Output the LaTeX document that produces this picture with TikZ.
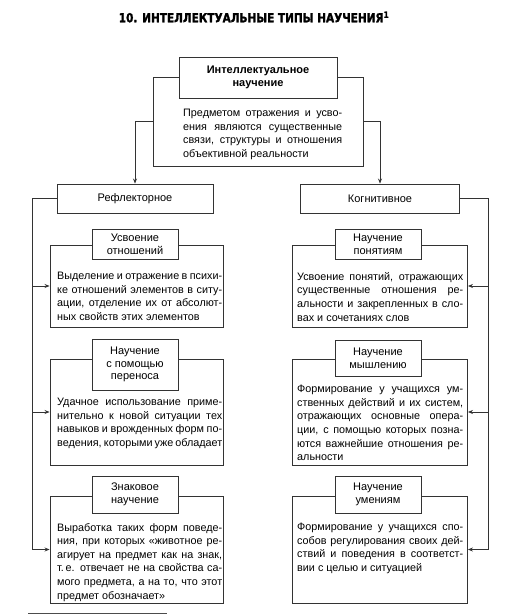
\documentclass[tikz,border=0pt]{standalone}
\usepackage{fontspec}
\setmainfont{Liberation Sans}
\newfontfamily\titlefont[FakeStretch=0.84,BoldFeatures={FakeBold=1.6}]{DejaVu Sans}
\usetikzlibrary{arrows.meta}
\newlength{\bw}
\newcommand{\jl}[1]{\makebox[\bw][s]{#1}}
\begin{document}
\begin{tikzpicture}[x=1pt,y=-1pt,
  box/.style={draw=black!80, line width=0.9pt, rectangle, inner sep=0pt},
  ttl/.style={box, fill=white, align=center, font=\fontsize{11}{12.8}\selectfont},
  body/.style={anchor=north west, inner sep=0pt, align=left, font=\fontsize{10.8}{13.6}\selectfont},
  conn/.style={draw=black!80, line width=0.7pt},
  arr/.style={conn, -{Stealth[length=5pt,width=4pt]}}
]
\useasboundingbox (0,0) rectangle (517,615);

% title
\node (title) at (254,17) {\titlefont\bfseries\fontsize{12.5}{14}\selectfont 10. ИНТЕЛЛЕКТУАЛЬНЫЕ ТИПЫ НАУЧЕНИЯ\textsuperscript{1}};

% top
\node[box, minimum width=210pt, minimum height=89pt] (top) at (258,121.5) {};
\node[box, fill=white, align=center, minimum width=158pt, minimum height=41pt,
      font=\bfseries\fontsize{11}{12.5}\selectfont] (topt) at (258,77.5) {Интеллектуальное\\научение};
\setlength{\bw}{159pt}
\node[body] (topx) at (183,109) {\jl{Предметом отражения и усво-}\\\jl{ения являются существенные}\\\jl{связи, структуры и отношения}\\объективной реальности};

% second level
\node[box, minimum width=156pt, minimum height=29pt, font=\fontsize{11}{12}\selectfont] (refl) at (135,198.5) {Рефлекторное};
\node[box, minimum width=159pt, minimum height=29pt, font=\fontsize{11}{12}\selectfont] (kog) at (380,198.5) {Когнитивное};

\draw[arr] (top.west) -| (refl.north);
\draw[arr] (top.east) -| (kog.north);

% left column
\node[box, minimum width=173pt, minimum height=82pt] (b1) at (136.5,286) {};
\node[box, minimum width=173pt, minimum height=106pt] (b2) at (136.5,412) {};
\node[box, minimum width=173pt, minimum height=107pt] (b3) at (136.5,549.5) {};
\node[ttl, minimum width=86pt, minimum height=30pt] (t1) at (135,244) {Усвоение\\отношений};
\node[ttl, minimum width=86pt, minimum height=51pt] (t2) at (135,364.5) {Научение\\с помощью\\переноса};
\node[ttl, minimum width=86pt, minimum height=37pt] (t3) at (135,494.5) {Знаковое\\научение};

\setlength{\bw}{165pt}
\node[body] (x1) at (57,272) {\jl{Выделение и отражение в психи-}\\\jl{ке отношений элементов в ситу-}\\\jl{ации, отделение их от абсолют-}\\ных свойств этих элементов};
\node[body] (x2) at (57,398) {\jl{Удачное использование приме-}\\\jl{нительно к новой ситуации тех}\\\jl{навыков и врожденных форм по-}\\\jl{ведения, которыми уже обладает}};
\node[body] (x3) at (57,523) {\jl{Выработка таких форм поведе-}\\\jl{ния, при которых «животное ре-}\\\jl{агирует на предмет как на знак,}\\\jl{т.\,е. отвечает не на свойства са-}\\\jl{мого предмета, а на то, что этот}\\предмет обозначает»};

% right column
\node[box, minimum width=175pt, minimum height=82pt] (c1) at (380,286) {};
\node[box, minimum width=175pt, minimum height=106pt] (c2) at (380,412) {};
\node[box, minimum width=175pt, minimum height=107pt] (c3) at (380,549.5) {};
\node[ttl, minimum width=86pt, minimum height=30pt] (t4) at (378,244) {Научение\\понятиям};
\node[ttl, minimum width=86pt, minimum height=36pt] (t5) at (378,358) {Научение\\мышлению};
\node[ttl, minimum width=86pt, minimum height=37pt] (t6) at (378,494.5) {Научение\\умениям};

\setlength{\bw}{166pt}
\node[body] (y1) at (297,272) {\jl{Усвоение понятий, отражающих}\\\jl{существенные отношения ре-}\\\jl{альности и закрепленных в сло-}\\вах и сочетаниях слов};
\node[body] (y2) at (297,385) {\jl{Формирование у учащихся ум-}\\\jl{ственных действий и их систем,}\\\jl{отражающих основные опера-}\\\jl{ции, с помощью которых позна-}\\\jl{ются важнейшие отношения ре-}\\альности};
\node[body] (y3) at (297,523) {\jl{Формирование у учащихся спо-}\\\jl{собов регулирования своих дей-}\\\jl{ствий и поведения в соответст-}\\вии с целью и ситуацией};

% trunks
\coordinate (lt) at (32,198.5);
\coordinate (rt) at (488,198.5);
\draw[conn] (refl.west) -- (lt) -- (lt |- b3.west);
\draw[arr] (lt |- b1.west) -- (b1.west);
\draw[arr] (lt |- b2.west) -- (b2.west);
\draw[arr] (lt |- b3.west) -- (b3.west);
\draw[conn] (kog.east) -- (rt) -- (rt |- c3.east);
\draw[arr] (rt |- c1.east) -- (c1.east);
\draw[arr] (rt |- c2.east) -- (c2.east);
\draw[arr] (rt |- c3.east) -- (c3.east);

% footnote rule
\coordinate (fa) at (28,613);
\coordinate (fb) at (167,613);
\draw[line width=0.5pt, black!70] (fa) -- (fb);
\end{tikzpicture}
\end{document}
